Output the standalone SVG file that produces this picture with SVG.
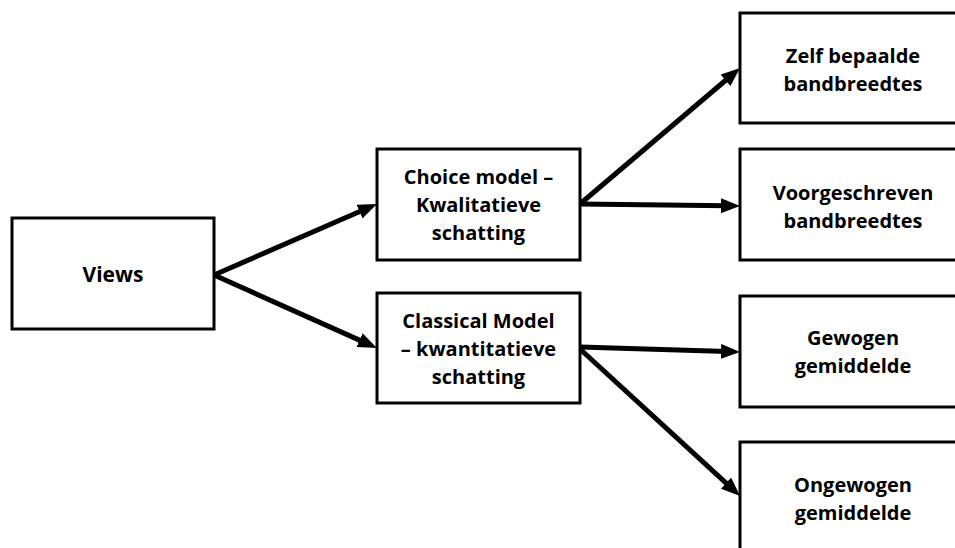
<svg xmlns="http://www.w3.org/2000/svg" width="955" height="548" viewBox="0 0 955 548">
<style>
.box{fill:#fff;stroke:#000;stroke-width:3}
.t{font-family:"Open Sans","Liberation Sans",sans-serif;font-weight:bold;font-size:20px;fill:#000;text-anchor:middle}
.c{stroke:#000;stroke-width:5;fill:none;marker-end:url(#ah)}
</style>
<defs>
<marker id="ah" markerUnits="userSpaceOnUse" markerWidth="19" markerHeight="15" refX="6" refY="7.5" orient="auto">
<path d="M0,0 L19,7.5 L0,15 z" fill="#000"/>
</marker>
</defs>
<rect width="955" height="548" fill="#fff"/>
<g id="connectors">
<line class="c" x1="214" y1="275" x2="365" y2="209.2"/>
<line class="c" x1="214" y1="275" x2="365" y2="342.6"/>
<line class="c" x1="580" y1="204" x2="730.1" y2="76.5"/>
<line class="c" x1="580" y1="204" x2="727" y2="205.8"/>
<line class="c" x1="580" y1="347" x2="727" y2="351.6"/>
<line class="c" x1="580" y1="349" x2="730.5" y2="487.2"/>
</g>
<g id="views">
<rect class="box" x="12" y="218" width="202" height="111"/>
<text class="t" x="113" y="282" style="font-size:21px">Views</text>
</g>
<g id="choice">
<rect class="box" x="377" y="149" width="203" height="111"/>
<text class="t" x="478.5" y="184">Choice model –</text>
<text class="t" x="478.5" y="212">Kwalitatieve</text>
<text class="t" x="478.5" y="240">schatting</text>
</g>
<g id="classical">
<rect class="box" x="377" y="293" width="203" height="110"/>
<text class="t" x="478.5" y="328">Classical Model</text>
<text class="t" x="478.5" y="356">– kwantitatieve</text>
<text class="t" x="478.5" y="384">schatting</text>
</g>
<g id="zelf">
<rect class="box" x="740" y="13" width="226" height="110"/>
<text class="t" x="853" y="63">Zelf bepaalde</text>
<text class="t" x="853" y="91">bandbreedtes</text>
</g>
<g id="voorgeschreven">
<rect class="box" x="740" y="149" width="226" height="111"/>
<text class="t" x="853" y="200">Voorgeschreven</text>
<text class="t" x="853" y="228">bandbreedtes</text>
</g>
<g id="gewogen">
<rect class="box" x="740" y="296" width="226" height="111"/>
<text class="t" x="853" y="345">Gewogen</text>
<text class="t" x="853" y="373">gemiddelde</text>
</g>
<g id="ongewogen">
<rect class="box" x="740" y="442" width="226" height="120"/>
<text class="t" x="853" y="492">Ongewogen</text>
<text class="t" x="853" y="520">gemiddelde</text>
</g>
</svg>
